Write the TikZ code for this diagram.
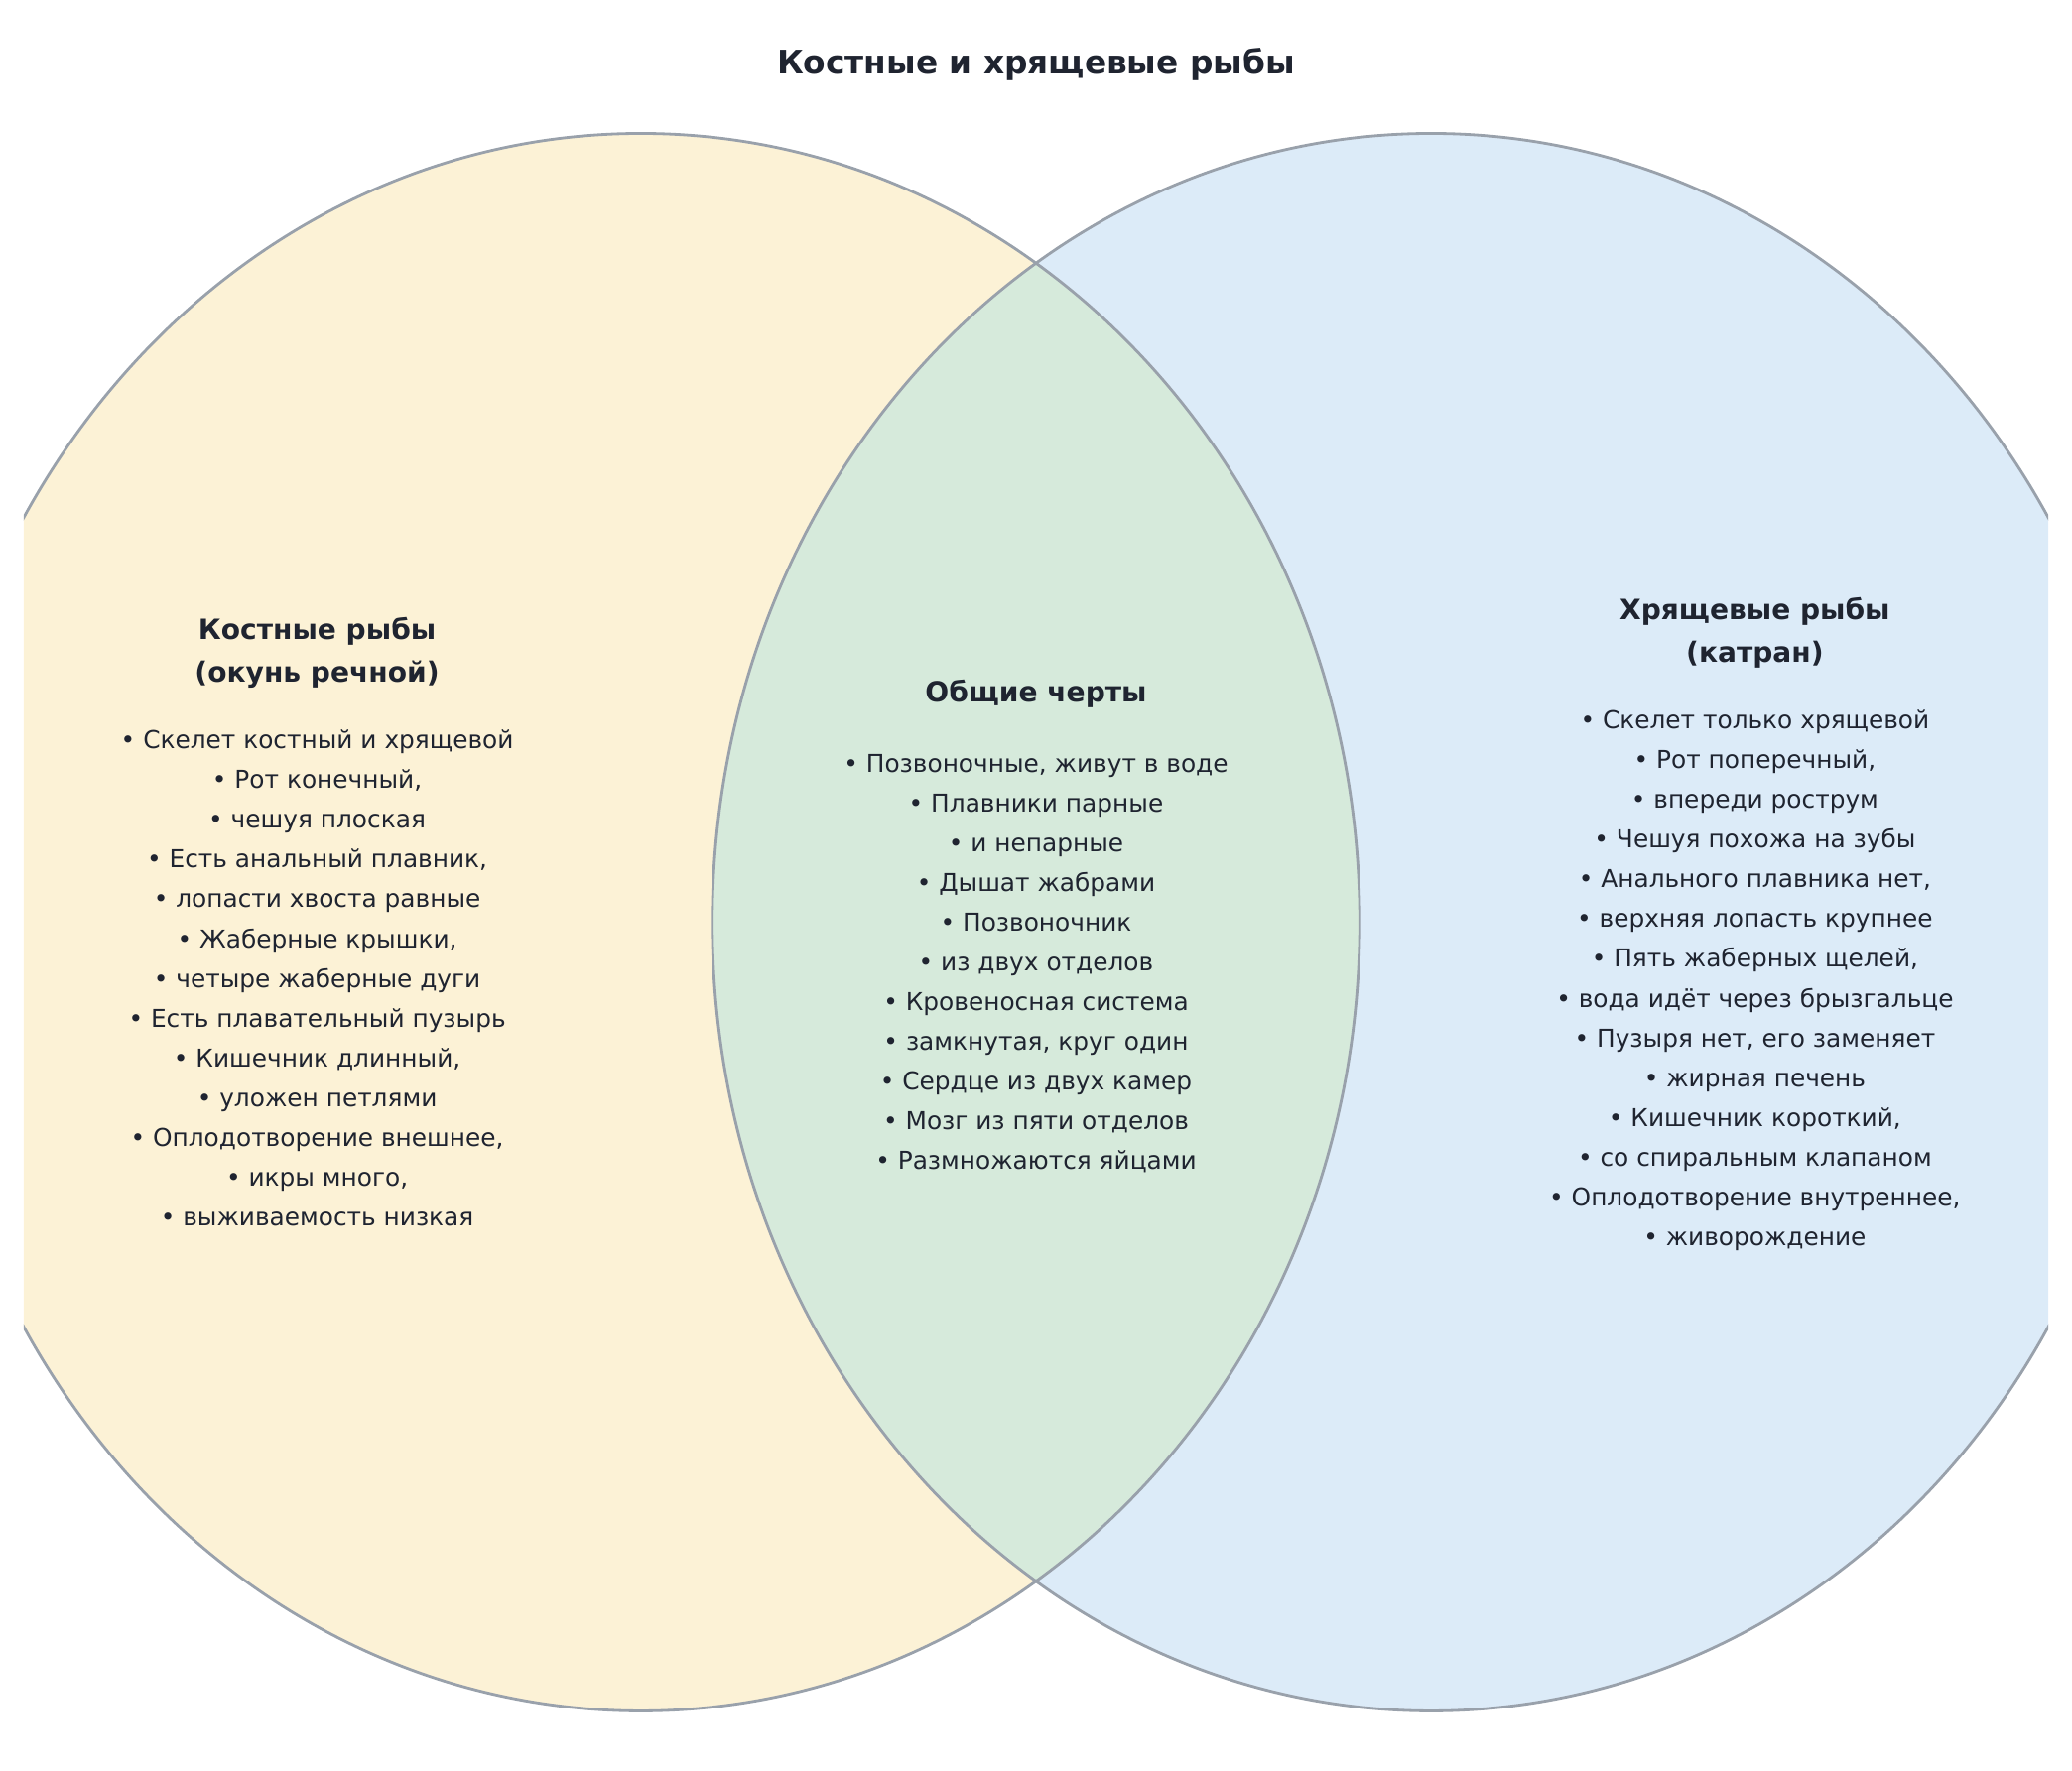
\documentclass[tikz,border=0pt]{standalone}
\usepackage{fontspec}
\setmainfont{DejaVu Sans}
\usetikzlibrary{positioning}
\definecolor{inkc}{HTML}{1F2430}
\definecolor{ringc}{HTML}{99A1AB}
\definecolor{bonyc}{HTML}{FCF2D6}
\definecolor{cartc}{HTML}{DCEBF8}
\definecolor{bothc}{HTML}{D6EADB}
\tikzset{
  heading/.style={text=inkc, font=\fontsize{6}{9.2}\selectfont\bfseries, align=center},
  items/.style={text=inkc, font=\fontsize{5.3}{8.55}\selectfont, align=center},
}
\begin{document}
\begin{tikzpicture}[x=0.01cm, y=-0.01cm]
  \useasboundingbox (0,0) rectangle (1568,1340);
  \begin{scope}
    \clip (18,0) rectangle (1550,1340);
    \fill[bonyc] (485,698) ellipse [x radius=544, y radius=597];
    \fill[cartc] (1083,698) ellipse [x radius=544, y radius=597];
    \begin{scope}
      \clip (485,698) ellipse [x radius=544, y radius=597];
      \fill[bothc] (1083,698) ellipse [x radius=544, y radius=597];
    \end{scope}
    \draw[ringc, line width=0.6pt] (485,698) ellipse [x radius=544, y radius=597];
    \draw[ringc, line width=0.6pt] (1083,698) ellipse [x radius=544, y radius=597];
  \end{scope}

  \node[heading, font=\fontsize{7}{9}\selectfont\bfseries] (title) at (784,49) {Костные и хрящевые рыбы};

  % bony fish
  \node[heading] (bonyhead) at (240,494) {Костные рыбы\\(окунь речной)};
  \node[items, below=2pt of bonyhead] (bonylist) {• Скелет костный и хрящевой\\• Рот конечный,\\• чешуя плоская\\• Есть анальный плавник,\\• лопасти хвоста равные\\• Жаберные крышки,\\• четыре жаберные дуги\\• Есть плавательный пузырь\\• Кишечник длинный,\\• уложен петлями\\• Оплодотворение внешнее,\\• икры много,\\• выживаемость низкая};

  % common
  \node[heading] (bothhead) at (784,525) {Общие черты};
  \node[items, below=3pt of bothhead] (bothlist) {• Позвоночные, живут в воде\\• Плавники парные\\• и непарные\\• Дышат жабрами\\• Позвоночник\\• из двух отделов\\• Кровеносная система\\• замкнутая, круг один\\• Сердце из двух камер\\• Мозг из пяти отделов\\• Размножаются яйцами};

  % cartilaginous fish
  \node[heading] (carthead) at (1328,479) {Хрящевые рыбы\\(катран)};
  \node[items, below=2pt of carthead] (cartlist) {• Скелет только хрящевой\\• Рот поперечный,\\• впереди рострум\\• Чешуя похожа на зубы\\• Анального плавника нет,\\• верхняя лопасть крупнее\\• Пять жаберных щелей,\\• вода идёт через брызгальце\\• Пузыря нет, его заменяет\\• жирная печень\\• Кишечник короткий,\\• со спиральным клапаном\\• Оплодотворение внутреннее,\\• живорождение};
\end{tikzpicture}
\end{document}
